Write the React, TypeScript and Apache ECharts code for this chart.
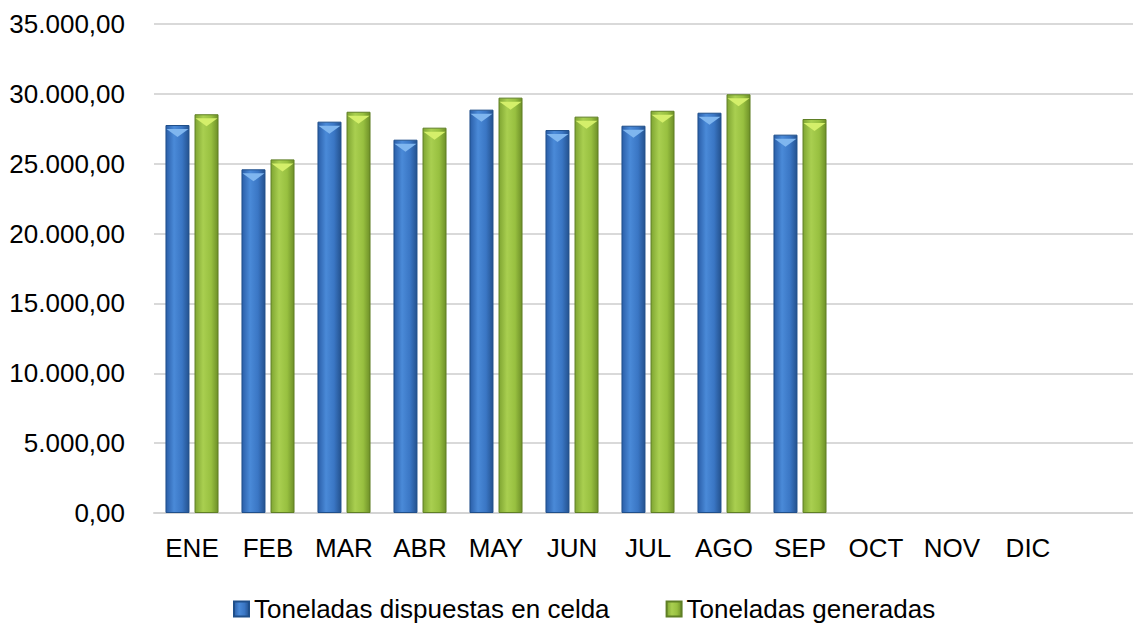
import React, { useEffect, useRef } from "react";
import * as echarts from "echarts";

const categories = ["ENE", "FEB", "MAR", "ABR", "MAY", "JUN", "JUL", "AGO", "SEP", "OCT", "NOV", "DIC"];
const dispuestas = [27770, 24600, 28010, 26720, 28870, 27410, 27720, 28650, 27080, null, null, null];
const generadas = [28540, 25310, 28720, 27580, 29730, 28370, 28790, 29970, 28200, null, null, null];
const seriesNames = ["Toneladas dispuestas en celda", "Toneladas generadas"];

const FONT = "'Liberation Sans', Arial, sans-serif";

function fmt(v: number): string {
  const s = Math.round(v).toString().replace(/\B(?=(\d{3})+(?!\d))/g, ".");
  return s + ",00";
}

const blueGrad = new echarts.graphic.LinearGradient(0, 0, 1, 0, [
  { offset: 0, color: "#2a5ea8" },
  { offset: 0.35, color: "#4a8ad8" },
  { offset: 0.7, color: "#3a76c4" },
  { offset: 1, color: "#24528f" },
]);
const greenGrad = new echarts.graphic.LinearGradient(0, 0, 1, 0, [
  { offset: 0, color: "#7fa532" },
  { offset: 0.35, color: "#a9cf50" },
  { offset: 0.7, color: "#98c040" },
  { offset: 1, color: "#6e9028" },
]);

export default function App() {
  const ref = useRef<HTMLDivElement>(null);
  useEffect(() => {
    document.body.style.margin = "0";
    const chart = echarts.init(ref.current!, null, { renderer: "svg" });
    chart.setOption({
      animation: false,
      backgroundColor: "#ffffff",
      legend: {
        left: 228,
        top: 591,
        itemWidth: 15,
        itemHeight: 15,
        itemGap: 56,
        icon: "rect",
        data: seriesNames,
        textStyle: { fontFamily: FONT, fontSize: 26, color: "#000" },
      },
      grid: [
        { left: 154, top: 24, width: 912, height: 489, containLabel: false },
        { left: 154, top: 24, right: 0, height: 489, containLabel: false },
      ],
      xAxis: [
        {
          type: "category",
          gridIndex: 0,
          data: categories,
          axisLine: { show: false },
          axisTick: { show: false },
          axisLabel: { fontFamily: FONT, fontSize: 26, color: "#000", margin: 22, interval: 0 },
        },
        {
          type: "value",
          gridIndex: 1,
          min: 0,
          max: 1,
          axisLine: { show: true, lineStyle: { color: "#d4d4d4", width: 2 } },
          axisTick: { show: false },
          axisLabel: { show: false },
          splitLine: { show: false },
        },
      ],
      yAxis: [
        {
          type: "value",
          gridIndex: 0,
          min: 0,
          max: 35000,
          interval: 5000,
          axisLine: { show: false },
          axisTick: { show: false },
          splitLine: { show: false },
          axisLabel: {
            fontFamily: FONT,
            fontSize: 26,
            color: "#000",
            margin: 29,
            formatter: (v: number) => fmt(v),
          },
        },
        {
          type: "value",
          gridIndex: 1,
          min: 0,
          max: 35000,
          interval: 5000,
          axisLine: { show: false },
          axisTick: { show: false },
          axisLabel: { show: false },
          splitLine: { show: true, lineStyle: { color: "#d9d9d9", width: 2 } },
        },
      ],
      series: [
        {
          name: seriesNames[0],
          type: "bar",
          xAxisIndex: 0,
          yAxisIndex: 0,
          data: dispuestas,
          barWidth: 24,
          barGap: "21%",
          itemStyle: { color: blueGrad, borderColor: "#1f4f8a", borderWidth: 1 },
        },
        {
          name: seriesNames[1],
          type: "bar",
          xAxisIndex: 0,
          yAxisIndex: 0,
          data: generadas,
          barWidth: 24,
          barGap: "21%",
          itemStyle: { color: greenGrad, borderColor: "#5f7f25", borderWidth: 1 },
        },
        {
          type: "pictorialBar",
          xAxisIndex: 0,
          yAxisIndex: 0,
          data: dispuestas,
          barWidth: 24,
          barGap: "21%",
          symbol: "path://M0,0 L2,0 L1,1 Z",
          symbolSize: [22, 8],
          symbolPosition: "end",
          symbolOffset: [0, "50%"],
          itemStyle: { color: "#7fb6ef" },
          silent: true,
          z: 3,
        },
        {
          type: "pictorialBar",
          xAxisIndex: 0,
          yAxisIndex: 0,
          data: generadas,
          barWidth: 24,
          barGap: "21%",
          symbol: "path://M0,0 L2,0 L1,1 Z",
          symbolSize: [22, 8],
          symbolPosition: "end",
          symbolOffset: [0, "50%"],
          itemStyle: { color: "#d4ef6a" },
          silent: true,
          z: 3,
        },
      ],
    });
    return () => chart.dispose();
  }, []);
  return <div ref={ref} style={{ width: 1133, height: 629 }} />;
}
